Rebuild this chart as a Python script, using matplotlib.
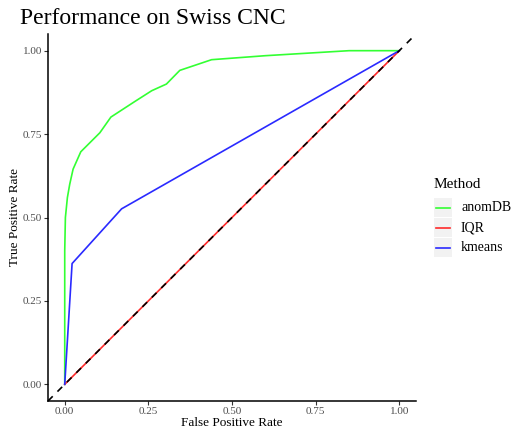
import numpy as np
import matplotlib.pyplot as plt
from matplotlib.lines import Line2D
from matplotlib.patches import Rectangle

# ROC curves
anomdb_fpr = [0.0, 0.0, 0.002, 0.008, 0.015, 0.025, 0.048, 0.105, 0.138, 0.21, 0.26, 0.304, 0.344, 0.439, 0.6, 0.85, 1.0]
anomdb_tpr = [0.0, 0.40, 0.50, 0.56, 0.60, 0.645, 0.697, 0.754, 0.801, 0.848, 0.88, 0.90, 0.941, 0.973, 0.985, 1.0, 1.0]
iqr_fpr = [0.0, 1.0]
iqr_tpr = [0.0, 1.0]
kmeans_fpr = [0.0, 0.022, 0.17, 1.0]
kmeans_tpr = [0.0, 0.362, 0.526, 1.0]

methods = ["anomDB", "IQR", "kmeans"]
colors = ["#33ff33", "#ff2a2a", "#2a2aff"]
ticks = [0.0, 0.25, 0.5, 0.75, 1.0]
tick_labels = ["0.00", "0.25", "0.50", "0.75", "1.00"]

plt.rcParams["font.family"] = ["Liberation Serif", "DejaVu Serif"]

fig = plt.figure(figsize=(5.11, 4.30), dpi=100)
ax = fig.add_axes([48 / 511, 1 - 401 / 430, (416 - 48) / 511, (401 - 34) / 430])

series = [(anomdb_fpr, anomdb_tpr), (iqr_fpr, iqr_tpr), (kmeans_fpr, kmeans_tpr)]
for (fx, ty), c in zip(series, colors):
    ax.plot(fx, ty, color=c, lw=1.2, zorder=2)

# diagonal reference (abline), spans the whole panel
ax.axline((0, 0), slope=1, color="black", lw=1.2, ls=(0, (4, 4)), zorder=3)

ax.set_xlim(-0.05, 1.05)
ax.set_ylim(-0.05, 1.05)
ax.set_xticks(ticks, tick_labels)
ax.set_yticks(ticks, tick_labels)
ax.tick_params(axis="both", labelsize=8, labelcolor="#4d4d4d", color="#333333",
               length=3, width=0.8, pad=1.2)
for side in ["top", "right"]:
    ax.spines[side].set_visible(False)
for side in ["left", "bottom"]:
    ax.spines[side].set_linewidth(1.1)

ax.set_xlabel("False Positive Rate", fontsize=9.5, labelpad=0.5)
ax.set_ylabel("True Positive Rate", fontsize=9.5, labelpad=1)
fig.text(20 / 511, 1 - 18 / 430, "Performance on Swiss CNC", fontsize=17, va="center", ha="left")

# ggplot-style legend
fig.text(434 / 511, 1 - 185 / 430, "Method", fontsize=11, va="center", ha="left")
for i, (m, c) in enumerate(zip(methods, colors)):
    top = 198 + i * 20
    fig.patches.append(Rectangle((434 / 511, 1 - (top + 19) / 430), 18 / 511, 19 / 430,
                                 transform=fig.transFigure, facecolor="#f2f2f2", edgecolor="none"))
    fig.lines.append(Line2D([436 / 511, 450 / 511], [1 - (top + 9.5) / 430] * 2,
                            transform=fig.transFigure, color=c, lw=1.2))
    fig.text(461 / 511, 1 - (top + 9.5) / 430, m, fontsize=10, va="center", ha="left")

fig.savefig("out.png", dpi=100)
